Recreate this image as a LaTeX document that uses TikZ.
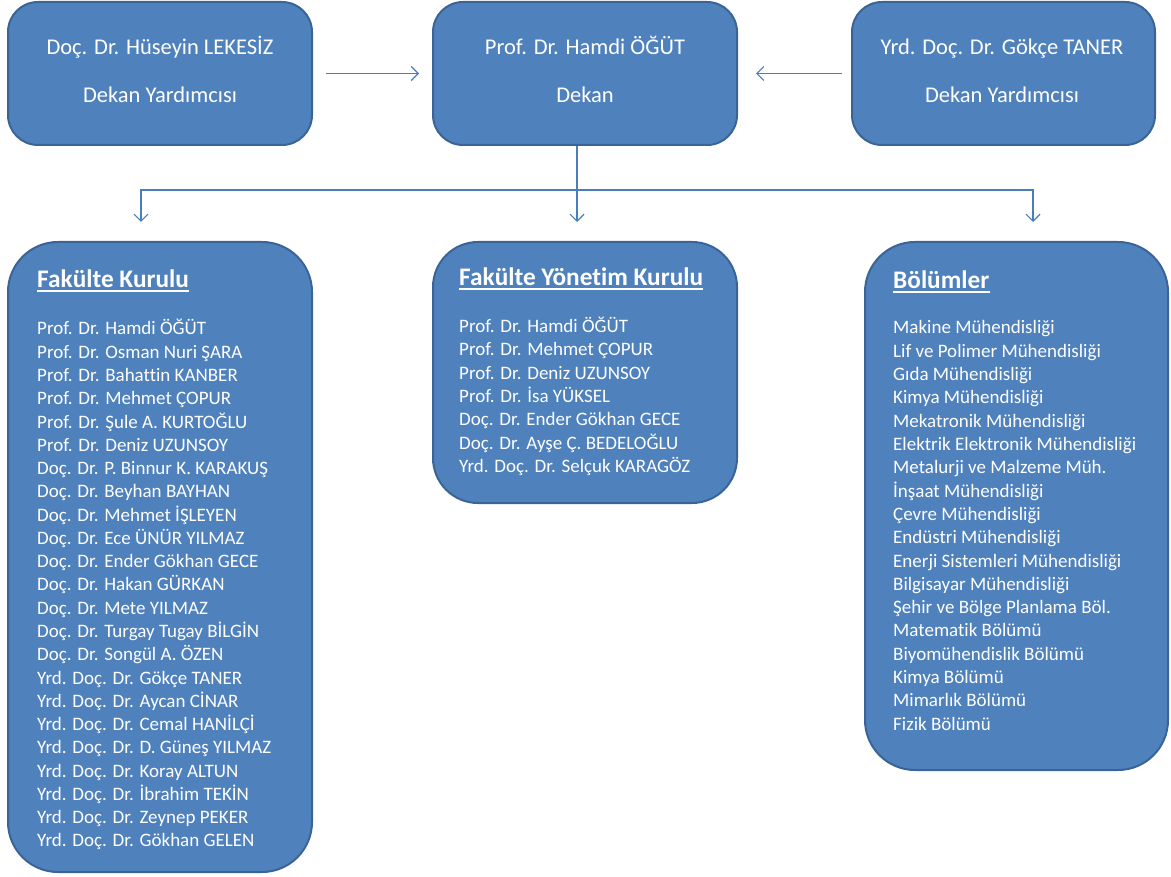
\documentclass[tikz,border=0pt]{standalone}
\usepackage{fontspec}
\setmainfont[Ligatures=NoCommon]{Carlito}
\usetikzlibrary{arrows.meta}
\definecolor{boxfill}{HTML}{4F81BD}
\definecolor{boxline}{HTML}{3A6496}
\definecolor{arrowc}{HTML}{4A7EBB}
\begin{document}
\begin{tikzpicture}[x=1pt,y=-1pt,
  box/.style={draw=boxline, line width=2pt, fill=boxfill, rounded corners=#1, inner sep=0pt},
  headtxt/.style={text=white, inner sep=0pt, font=\fontsize{22.5}{27}\selectfont},
  titletxt/.style={text=white, inner sep=0pt, anchor=base west, font=\fontsize{25.3}{30}\selectfont\bfseries},
  itemtxt/.style={text=white, inner sep=0pt, anchor=base west, font=\fontsize{19}{23}\selectfont},
  conn/.style={draw=arrowc, line width=1.1pt, -{Straight Barb[length=7pt,width=14pt,line width=1.1pt]}},
  uline/.style={draw=white, line width=1.4pt}]
\useasboundingbox (0,0) rectangle (1171,877);

% top boxes
\node[box=30pt, minimum width=304pt, minimum height=143pt] (dy1) at (160,73.5) {};
\node[box=30pt, minimum width=304pt, minimum height=143pt] (dk) at (585,73.5) {};
\node[box=30pt, minimum width=303pt, minimum height=143pt] (dy2) at (1003.5,73.5) {};

\node[headtxt, anchor=base] (dy1a) at (160,55) {Doç. Dr. Hüseyin LEKESİZ};
\node[headtxt, anchor=base] (dy1b) at (160,103) {Dekan Yardımcısı};
\node[headtxt, anchor=base] (dka) at (585,55) {Prof. Dr. Hamdi ÖĞÜT};
\node[headtxt, anchor=base] (dkb) at (585,103) {Dekan};
\node[headtxt, anchor=base] (dy2a) at (1002,55) {Yrd. Doç. Dr. Gökçe TANER};
\node[headtxt, anchor=base] (dy2b) at (1002,103) {Dekan Yardımcısı};

% lower boxes
\node[box=50pt, minimum width=304pt, minimum height=630pt] (fk) at (160,557) {};
\node[box=45pt, minimum width=304pt, minimum height=261pt] (fyk) at (585,372.5) {};
\node[box=50pt, minimum width=303pt, minimum height=528pt] (bol) at (1016.5,506) {};

% connectors
\draw[conn, shorten <=13pt, shorten >=13pt] (dy1) -- (dk);
\draw[conn, shorten <=9pt, shorten >=18pt] (dy2) -- (dk);
\coordinate (hub) at (577,190);
\coordinate (c1) at (141,222);
\coordinate (c2) at (577,222);
\coordinate (c3) at (1033,222);
\draw[conn] (dk.south -| hub) -- (c2);
\draw[conn] (hub) -| (c1);
\draw[conn] (hub) -| (c3);

% titles
\node[titletxt] (fkt) at (37,288) {Fakülte Kurulu};
\draw[uline] ([yshift=-3pt]fkt.base west) -- ([yshift=-3pt]fkt.base east);
\node[titletxt] (fykt) at (459,286) {Fakülte Yönetim Kurulu};
\draw[uline] ([yshift=-3pt]fykt.base west) -- ([yshift=-3pt]fykt.base east);
\node[titletxt] (bolt) at (893,289) {Bölümler};
\draw[uline] ([yshift=-3pt]bolt.base west) -- ([yshift=-3pt]bolt.base east);

% lists
\foreach [count=\i] \t in {Prof. Dr. Hamdi ÖĞÜT, Prof. Dr. Osman Nuri ŞARA, Prof. Dr. Bahattin KANBER, Prof. Dr. Mehmet ÇOPUR, Prof. Dr. Şule A. KURTOĞLU, Prof. Dr. Deniz UZUNSOY, Doç. Dr. P. Binnur K. KARAKUŞ, Doç. Dr. Beyhan BAYHAN, Doç. Dr. Mehmet İŞLEYEN, Doç. Dr. Ece ÜNÜR YILMAZ, Doç. Dr. Ender Gökhan GECE, Doç. Dr. Hakan GÜRKAN, Doç. Dr. Mete YILMAZ, Doç. Dr. Turgay Tugay BİLGİN, Doç. Dr. Songül A. ÖZEN, Yrd. Doç. Dr. Gökçe TANER, Yrd. Doç. Dr. Aycan CİNAR, Yrd. Doç. Dr. Cemal HANİLÇİ, Yrd. Doç. Dr. D. Güneş YILMAZ, Yrd. Doç. Dr. Koray ALTUN, Yrd. Doç. Dr. İbrahim TEKİN, Yrd. Doç. Dr. Zeynep PEKER, Yrd. Doç. Dr. Gökhan GELEN}
  \node[itemtxt] (fk-\i) at (37,{335+(\i-1)*23.27}) {\t};

\foreach [count=\i] \t in {Prof. Dr. Hamdi ÖĞÜT, Prof. Dr. Mehmet ÇOPUR, Prof. Dr. Deniz UZUNSOY, Prof. Dr. İsa YÜKSEL, Doç. Dr. Ender Gökhan GECE, Doç. Dr. Ayşe Ç. BEDELOĞLU, Yrd. Doç. Dr. Selçuk KARAGÖZ}
  \node[itemtxt] (fyk-\i) at (459,{332.7+(\i-1)*23.3}) {\t};

\foreach [count=\i] \t in {Makine Mühendisliği, Lif ve Polimer Mühendisliği, Gıda Mühendisliği, Kimya Mühendisliği, Mekatronik Mühendisliği, Elektrik Elektronik Mühendisliği, Metalurji ve Malzeme Müh., İnşaat Mühendisliği, Çevre Mühendisliği, Endüstri Mühendisliği, Enerji Sistemleri Mühendisliği, Bilgisayar Mühendisliği, Şehir ve Bölge Planlama Böl., Matematik Bölümü, Biyomühendislik Bölümü, Kimya Bölümü, Mimarlık Bölümü, Fizik Bölümü}
  \node[itemtxt] (bol-\i) at (893,{334+(\i-1)*23.3}) {\t};
\end{tikzpicture}
\end{document}
